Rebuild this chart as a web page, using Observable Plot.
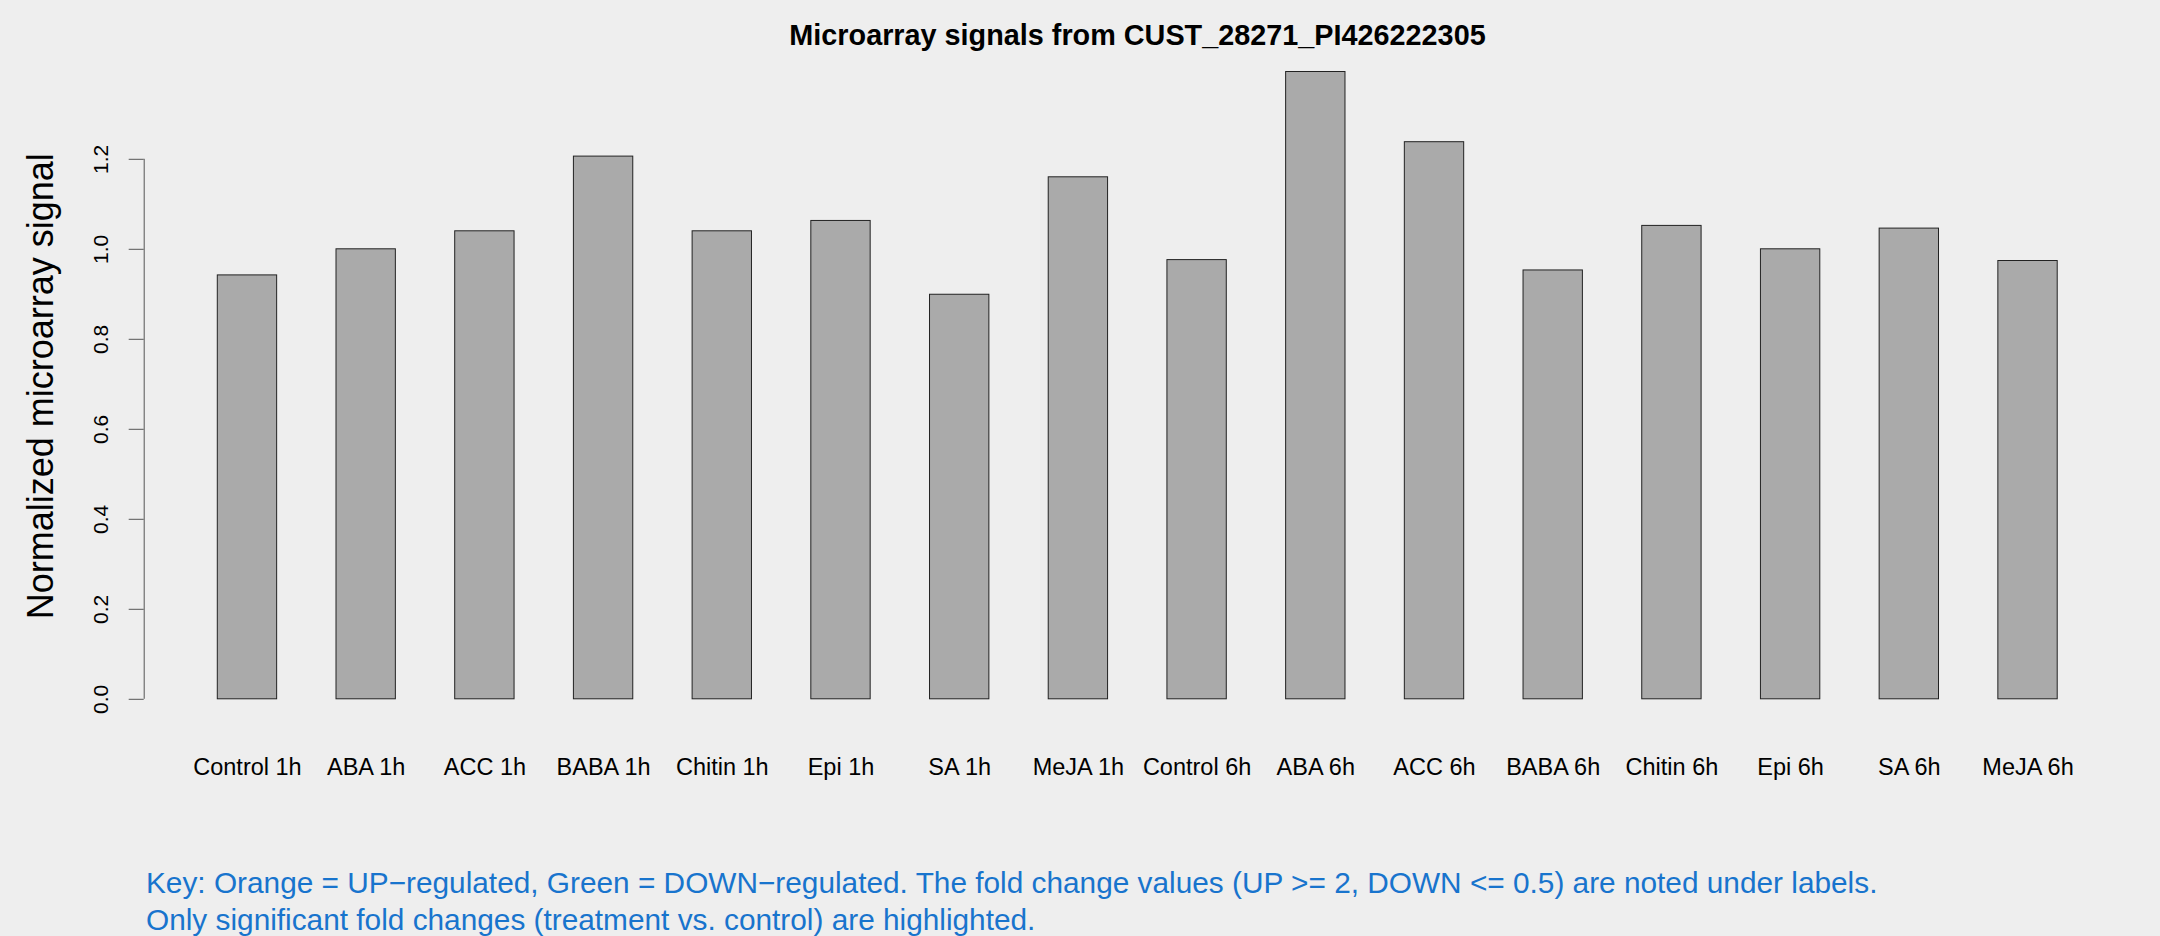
<!DOCTYPE html>
<html><head><meta charset="utf-8">
<script src="https://cdn.jsdelivr.net/npm/d3@7"></script>
<script src="https://cdn.jsdelivr.net/npm/@observablehq/plot@0.6"></script>
<style>
html,body{margin:0;padding:0;background:#eeeeee;}
#wrap{position:relative;width:2160px;height:936px;background:#eeeeee;overflow:hidden;font-family:"Liberation Sans",Arial,Helvetica,sans-serif;}
#title{position:absolute;left:144px;width:1987px;top:20.6px;text-align:center;font-weight:bold;font-size:28.8px;line-height:1;color:#000;white-space:nowrap;}
#chart{position:absolute;left:0;top:50px;}
#caption{position:absolute;left:146px;top:864.2px;font-size:29.8px;line-height:37px;color:#1874CD;white-space:nowrap;}
</style></head>
<body><div id="wrap"><div id="title"></div><div id="chart"></div><div id="caption"></div></div>
<script>
const title = "Microarray signals from CUST_28271_PI426222305";
const yLabel = "Normalized microarray signal";
const categories = ["Control 1h","ABA 1h","ACC 1h","BABA 1h","Chitin 1h","Epi 1h","SA 1h","MeJA 1h",
  "Control 6h","ABA 6h","ACC 6h","BABA 6h","Chitin 6h","Epi 6h","SA 6h","MeJA 6h"];
const values = [0.942,1.000,1.040,1.206,1.040,1.063,0.899,1.160,
  0.976,1.394,1.238,0.953,1.052,1.000,1.046,0.974];
const yTicks = [0,0.2,0.4,0.6,0.8,1.0,1.2];
const captionLines = [
  "Key: Orange = UP\u2212regulated, Green = DOWN\u2212regulated. The fold change values (UP >= 2, DOWN <= 0.5) are noted under labels.",
  "Only significant fold changes (treatment vs. control) are highlighted."
];

document.getElementById("title").textContent = title;
document.getElementById("caption").innerHTML = captionLines.map(s => s.replace(/&/g,"&amp;").replace(/</g,"&lt;").replace(/>/g,"&gt;")).join("<br>");

// R barplot geometry: width 1, space 1
const data = categories.map((c, i) => ({cat: c, i, value: values[i], x1: 2*i+1, x2: 2*i+2, xc: 2*i+1.5}));
const lo = 1, hi = 2*categories.length;
const ext = 0.04*(hi-lo);
const xDomain = [lo-ext, hi+ext];
const centers = data.map(d => d.xc);

const chart = Plot.plot({
  width: 2160, height: 770,
  marginLeft: 143.7, marginRight: 29.2, marginTop: 18.8, marginBottom: 121.2,
  x: {domain: xDomain},
  y: {domain: [0, 1.4]},
  style: {background: "transparent", fontFamily: "'Liberation Sans', Arial, sans-serif", color: "#000", overflow: "visible"},
  marks: [
    Plot.rectY(data, {x1: "x1", x2: "x2", y1: 0, y2: "value", fill: "#aaaaaa", stroke: "#222", strokeWidth: 1}),
    Plot.ruleX([xDomain[0]], {y1: yTicks[0], y2: yTicks[yTicks.length-1], stroke: "#555", strokeWidth: 1}),
    Plot.axisY({ticks: yTicks, tickSize: 15, tickPadding: 21, tickRotate: -90, tickFormat: d3.format(".1f"), fontSize: 21, label: null, stroke: "#555"}),
    Plot.axisX({ticks: centers, tickFormat: v => categories[Math.round((v-1.5)/2)], tickSize: 0, tickPadding: 59.5, fontSize: 23.5, label: null}),
    Plot.text([yLabel], {text: d => d, frameAnchor: "left", textAnchor: "middle", rotate: -90, dx: -103, dy: 2, fontSize: 36})
  ]
});
document.getElementById("chart").appendChild(chart);
</script>
</body></html>
